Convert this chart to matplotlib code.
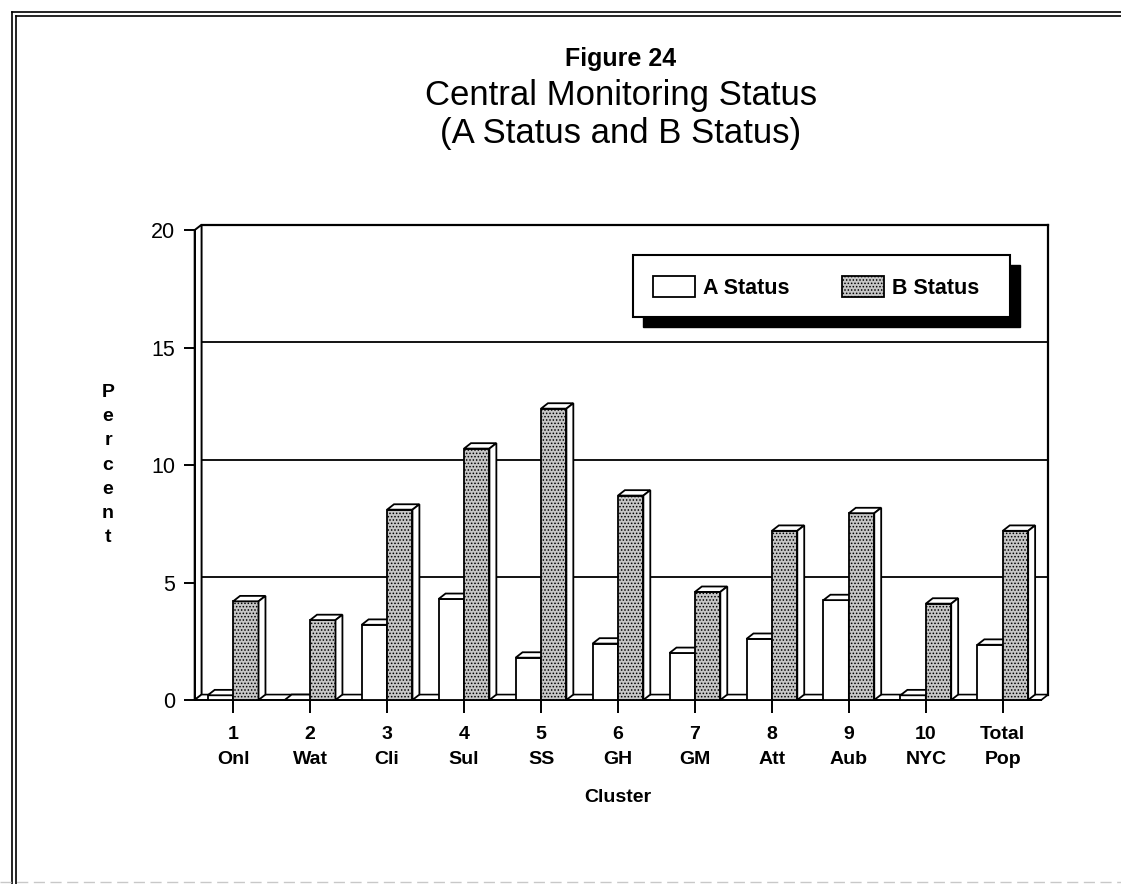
import matplotlib.pyplot as plt
from matplotlib.patches import Polygon, Rectangle
from matplotlib.lines import Line2D

# --- data ---
clusters = ['1\nOnl', '2\nWat', '3\nCli', '4\nSul', '5\nSS', '6\nGH',
            '7\nGM', '8\nAtt', '9\nAub', '10\nNYC', 'Total\nPop']
a_status = [0.2, 0.0, 3.2, 4.3, 1.8, 2.4, 2.0, 2.6, 4.25, 0.2, 2.35]
b_status = [4.2, 3.4, 8.1, 10.7, 12.4, 8.7, 4.6, 7.2, 7.95, 4.1, 7.2]
series_names = ['A Status', 'B Status']
y_ticks = [0, 5, 10, 15, 20]

plt.rcParams['font.family'] = ['Liberation Sans', 'DejaVu Sans']
plt.rcParams['hatch.linewidth'] = 0.7

W = 0.33              # bar width (category units)
DX, DY = 0.09, 0.23   # 3D depth offset
B_FACE = '#c6c6c6'

fig = plt.figure(figsize=(11.21, 8.84), dpi=100)
ax = fig.add_axes([0.1606, 0.2002, 0.7779, 0.5475])
ax.set_xlim(-0.69, 10.64)
ax.set_ylim(-0.3, 20.3)
ax.patch.set_visible(False)

# spines: front left edge and front floor line
for s in ['top', 'right']:
    ax.spines[s].set_visible(False)
ax.spines['left'].set_position(('data', -0.5))
ax.spines['left'].set_bounds(0, 20)
ax.spines['bottom'].set_position(('data', 0))
ax.spines['bottom'].set_bounds(-0.5, 10.5)
for s in ['left', 'bottom']:
    ax.spines[s].set_linewidth(1.4)

ax.set_yticks(y_ticks)
ax.set_yticklabels([str(v) for v in y_ticks], fontsize=15.5)
ax.tick_params(axis='y', length=8, width=1.4, pad=6)
ax.set_xticks(range(len(clusters)))
ax.set_xticklabels(clusters, fontsize=14, fontweight='bold', linespacing=1.55)
ax.tick_params(axis='x', length=9, width=1.4, pad=10)

# back wall: left side, top edge, right edge, gridlines
xl, xr = -0.5, 10.5
ax.add_patch(Polygon([(xl, 0), (xl + DX, DY), (xl + DX, 20 + DY), (xl, 20)],
                     closed=True, facecolor='white', edgecolor='black', lw=1.4, zorder=1))
ax.plot([xl + DX, xr + DX], [20 + DY, 20 + DY], color='black', lw=1.6, zorder=1)
ax.plot([xr + DX, xr + DX], [DY, 20 + DY], color='black', lw=1.6, zorder=1)
for v in y_ticks[1:-1]:
    ax.plot([xl + DX, xr + DX], [v + DY, v + DY], color='black', lw=1.3, zorder=1)

# floor slab
ax.add_patch(Polygon([(xl, 0), (xr, 0), (xr + DX, DY), (xl + DX, DY)],
                     closed=True, facecolor='white', edgecolor='black', lw=1.2, zorder=2))

# 3D bars
z = 3
for i in range(len(clusters)):
    for k, vals in enumerate([a_status, b_status]):
        h = vals[i]
        x0 = i - W if k == 0 else i
        x1 = x0 + W
        face = 'white' if k == 0 else B_FACE
        hatch = None if k == 0 else '.....'
        ax.bar(x0, h, width=W, align='edge', facecolor=face,
               edgecolor='black', lw=1.3, hatch=hatch, zorder=z)
        top = Polygon([(x0, h), (x1, h), (x1 + DX, h + DY), (x0 + DX, h + DY)],
                      closed=True, facecolor='white', edgecolor='black', lw=1.3, zorder=z + 0.001)
        side = Polygon([(x1, 0), (x1 + DX, DY), (x1 + DX, h + DY), (x1, h)],
                       closed=True, facecolor='white', edgecolor='black', lw=1.3, zorder=z + 0.002)
        ax.add_patch(top)
        ax.add_patch(side)
        z += 0.01


def fx(px):
    return px / 1121


def fy(py):
    return 1 - py / 884


# titles
fig.text(fx(621), fy(59), 'Figure 24', ha='center', va='center',
         fontsize=18, fontweight='bold')
fig.text(fx(621), fy(95), 'Central Monitoring Status', ha='center', va='center',
         fontsize=25)
fig.text(fx(621), fy(133), '(A Status and B Status)', ha='center', va='center',
         fontsize=25)

# axis labels
fig.text(fx(108), fy(465), '\n'.join('Percent'), ha='center', va='center',
         fontsize=14, fontweight='bold', linespacing=1.54)
fig.text(fx(618), fy(797), 'Cluster', ha='center', va='center',
         fontsize=14, fontweight='bold')

# legend box with hard shadow
fig.patches.append(Rectangle((fx(643), fy(327)), fx(1020) - fx(643), fy(265) - fy(327),
                             transform=fig.transFigure, facecolor='black', edgecolor='black', zorder=5))
fig.patches.append(Rectangle((fx(633), fy(317)), fx(1010) - fx(633), fy(255) - fy(317),
                             transform=fig.transFigure, facecolor='white', edgecolor='black',
                             lw=1.5, zorder=6))
sw = [(653, 'white', None), (842, B_FACE, '.....')]
text_x = [703, 892]
for (px, fc, ht), tx, name in zip(sw, text_x, series_names):
    fig.patches.append(Rectangle((fx(px), fy(297)), fx(px + 42) - fx(px), fy(276) - fy(297),
                                 transform=fig.transFigure, facecolor=fc, edgecolor='black',
                                 hatch=ht, lw=1.3, zorder=7))
    fig.text(fx(tx), fy(288), name, ha='left', va='center', fontsize=15.5,
             fontweight='bold', zorder=8)

# page frame (double lines top and left, faint bottom)
for off in (12, 16):
    fig.add_artist(Line2D([fx(off), 1], [fy(off), fy(off)], color='black', lw=1.2))
    fig.add_artist(Line2D([fx(off), fx(off)], [fy(off), 0], color='black', lw=1.2))
fig.add_artist(Line2D([0, 1], [fy(882), fy(882)], color='#c8c8c8', lw=1.0, ls=(0, (8, 4))))

fig.savefig('out.png', dpi=100)
